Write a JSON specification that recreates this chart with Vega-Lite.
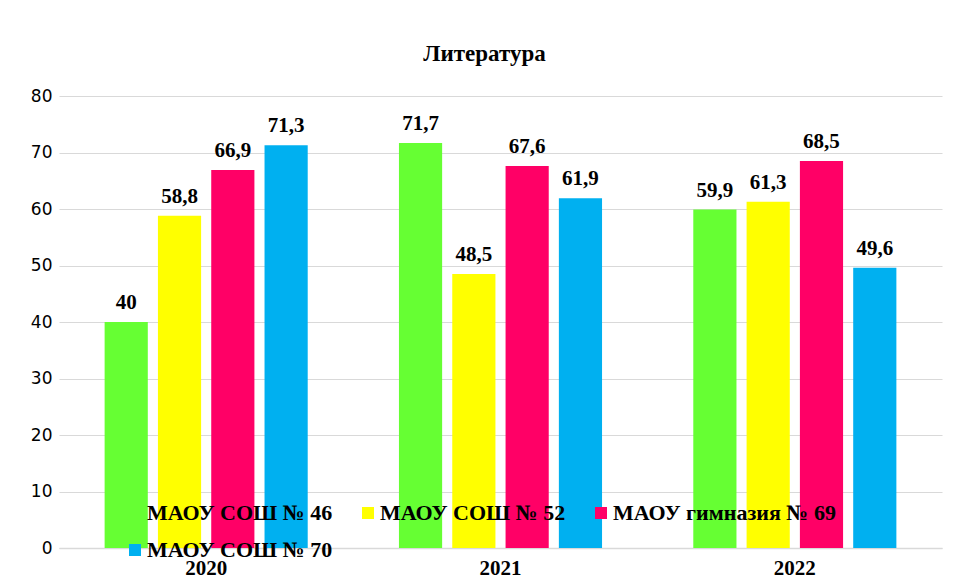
{
  "$schema": "https://vega.github.io/schema/vega-lite/v6.json",
  "width": 883,
  "height": 452,
  "autosize": "none",
  "padding": {"left": 59, "top": 96, "right": 11, "bottom": 40},
  "background": "white",
  "title": {
    "text": "Литература",
    "font": "Liberation Serif",
    "fontSize": 23,
    "fontWeight": "bold",
    "color": "#000000",
    "anchor": "middle",
    "offset": 21,
    "dx": -16
  },
  "data": {
    "values": [
      {"year": "2020", "school": "МАОУ СОШ № 46", "value": 40, "label": "40"},
      {"year": "2020", "school": "МАОУ СОШ № 52", "value": 58.8, "label": "58,8"},
      {"year": "2020", "school": "МАОУ гимназия № 69", "value": 66.9, "label": "66,9"},
      {"year": "2020", "school": "МАОУ СОШ № 70", "value": 71.3, "label": "71,3"},
      {"year": "2021", "school": "МАОУ СОШ № 46", "value": 71.7, "label": "71,7"},
      {"year": "2021", "school": "МАОУ СОШ № 52", "value": 48.5, "label": "48,5"},
      {"year": "2021", "school": "МАОУ гимназия № 69", "value": 67.6, "label": "67,6"},
      {"year": "2021", "school": "МАОУ СОШ № 70", "value": 61.9, "label": "61,9"},
      {"year": "2022", "school": "МАОУ СОШ № 46", "value": 59.9, "label": "59,9"},
      {"year": "2022", "school": "МАОУ СОШ № 52", "value": 61.3, "label": "61,3"},
      {"year": "2022", "school": "МАОУ гимназия № 69", "value": 68.5, "label": "68,5"},
      {"year": "2022", "school": "МАОУ СОШ № 70", "value": 49.6, "label": "49,6"}
    ]
  },
  "encoding": {
    "x": {
      "field": "year",
      "type": "nominal",
      "scale": {"paddingInner": 0.31, "paddingOuter": 0.155},
      "axis": {
        "title": null,
        "labelAngle": 0,
        "labelFont": "Liberation Serif",
        "labelFontSize": 21,
        "labelFontWeight": "bold",
        "labelColor": "#000000",
        "labelPadding": 9,
        "ticks": false,
        "domainColor": "#d9d9d9",
        "domainWidth": 1.5
      }
    },
    "xOffset": {
      "field": "school",
      "type": "nominal",
      "sort": ["МАОУ СОШ № 46", "МАОУ СОШ № 52", "МАОУ гимназия № 69", "МАОУ СОШ № 70"],
      "scale": {"paddingInner": 0.19, "paddingOuter": 0}
    },
    "y": {
      "field": "value",
      "type": "quantitative",
      "scale": {"domain": [0, 80], "nice": false},
      "axis": {
        "title": null,
        "values": [0, 10, 20, 30, 40, 50, 60, 70, 80],
        "labelFont": "DejaVu Sans",
        "labelFontSize": 17,
        "labelColor": "#000000",
        "labelPadding": 7,
        "ticks": false,
        "domain": false,
        "gridColor": "#d9d9d9",
        "gridWidth": 1
      }
    }
  },
  "layer": [
    {
      "mark": {"type": "bar"},
      "encoding": {
        "color": {
          "field": "school",
          "type": "nominal",
          "sort": ["МАОУ СОШ № 46", "МАОУ СОШ № 52", "МАОУ гимназия № 69", "МАОУ СОШ № 70"],
          "scale": {
            "domain": ["МАОУ СОШ № 46", "МАОУ СОШ № 52", "МАОУ гимназия № 69", "МАОУ СОШ № 70"],
            "range": ["#66FF33", "#FFFF00", "#FF0066", "#00B0F0"]
          },
          "legend": {
            "title": null,
            "orient": "none",
            "legendX": 65,
            "legendY": 406,
            "direction": "horizontal",
            "columns": 3,
            "columnPadding": 24,
            "rowPadding": 15,
            "symbolType": "square",
            "symbolSize": 144,
            "symbolStrokeWidth": 0,
            "labelFont": "Liberation Serif",
            "labelFontSize": 22,
            "labelFontWeight": "bold",
            "labelColor": "#000000",
            "labelOffset": 1,
            "labelLimit": 400
          }
        }
      }
    },
    {
      "mark": {
        "type": "text",
        "dy": -9,
        "baseline": "bottom",
        "font": "Liberation Serif",
        "fontSize": 21,
        "fontWeight": "bold",
        "color": "#000000"
      },
      "encoding": {
        "text": {"field": "label"}
      }
    }
  ],
  "config": {
    "view": {"stroke": null}
  }
}
